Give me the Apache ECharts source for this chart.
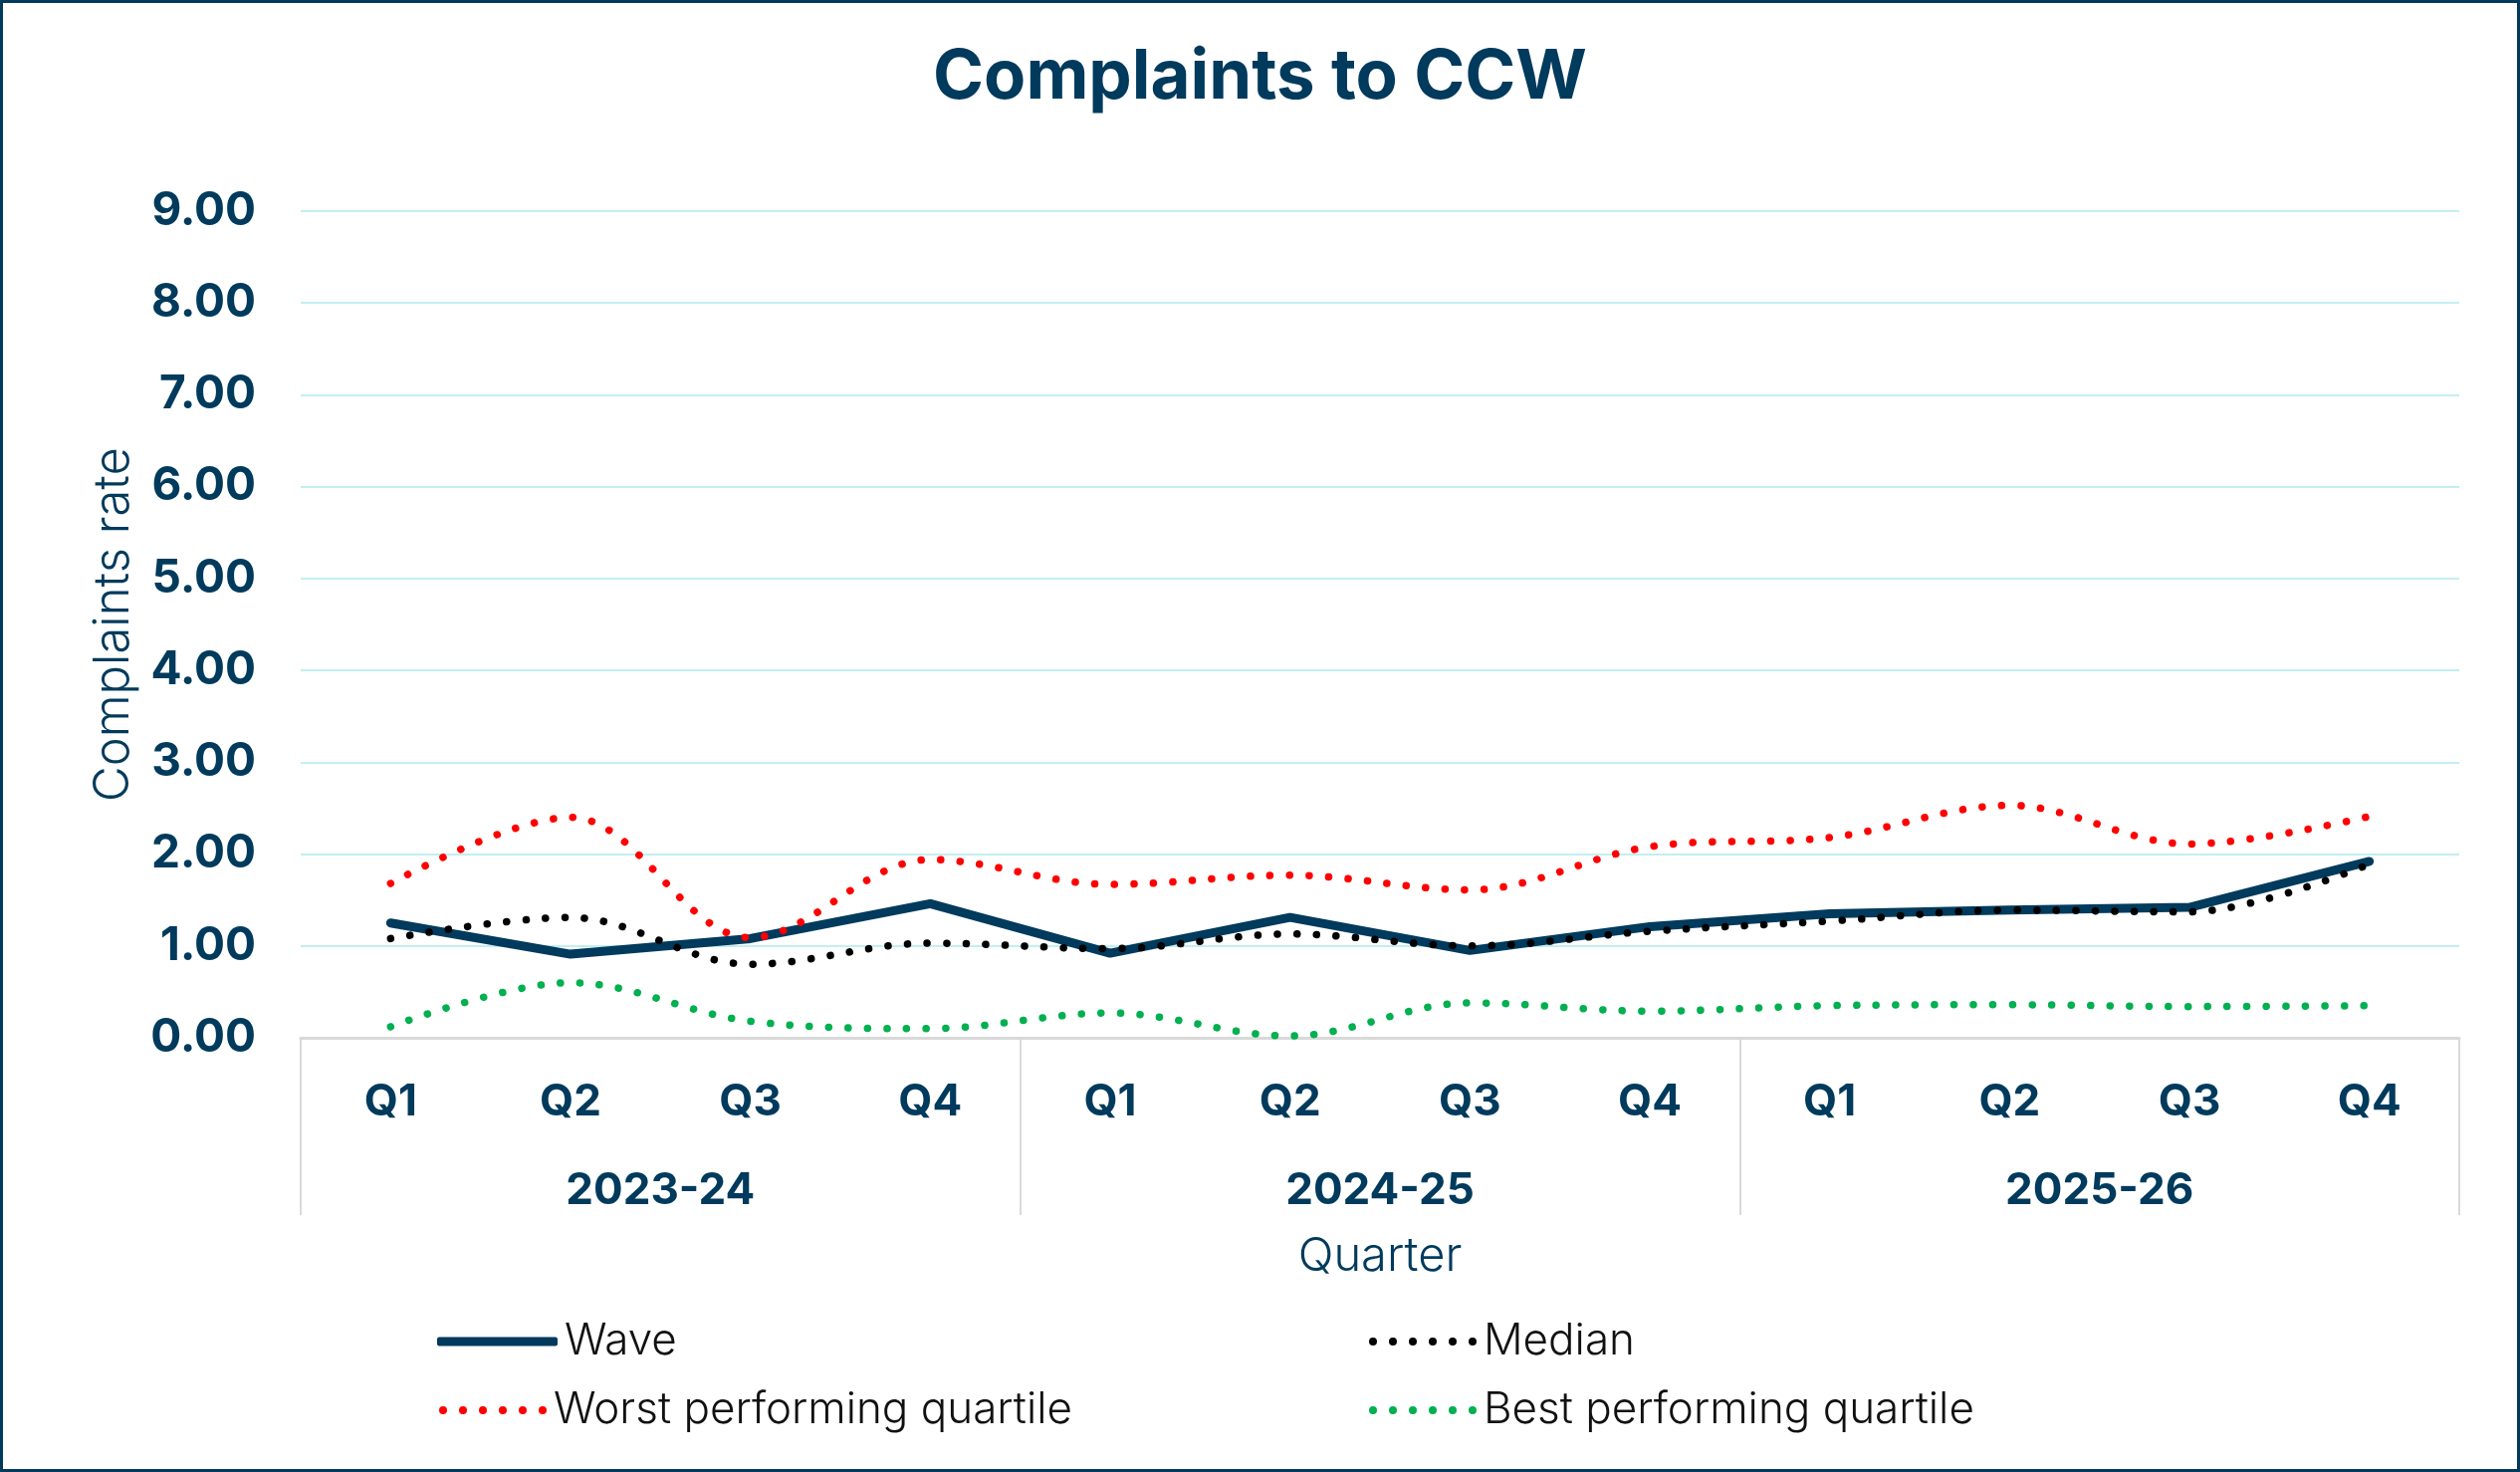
<!DOCTYPE html>
<html>
<head>
<meta charset="utf-8">
<script src="https://cdn.jsdelivr.net/npm/echarts@6/dist/echarts.min.js"></script>
<style>
  html, body { margin: 0; padding: 0; background: #fff; }
  #chart { width: 2531px; height: 1478px; box-sizing: border-box; border: 3px solid #003a5c; }
</style>
</head>
<body>
<div id="chart"></div>
<script>
// quarters / years on the two-level category axis
var quarters = ['Q1', 'Q2', 'Q3', 'Q4', 'Q1', 'Q2', 'Q3', 'Q4', 'Q1', 'Q2', 'Q3', 'Q4'];
var years = ['2023-24', '2024-25', '2025-26'];

var wave = [1.25, 0.91, 1.08, 1.46, 0.92, 1.31, 0.95, 1.21, 1.35, 1.39, 1.42, 1.92];
var median = [1.08, 1.31, 0.80, 1.03, 0.97, 1.13, 1.00, 1.16, 1.27, 1.39, 1.37, 1.89];
var worst = [1.68, 2.40, 1.09, 1.94, 1.67, 1.77, 1.61, 2.08, 2.18, 2.53, 2.11, 2.41];
var best = [0.12, 0.60, 0.18, 0.10, 0.27, 0.02, 0.38, 0.29, 0.35, 0.36, 0.34, 0.35];

var navy = '#003a5c';
var font = 'Inter, "Open Sans", sans-serif';

// six round dots, used as legend icon for the dotted series
var dots = 'path://M0,4a4,4 0 1,0 8,0a4,4 0 1,0 -8,0' +
    'M20,4a4,4 0 1,0 8,0a4,4 0 1,0 -8,0' +
    'M40,4a4,4 0 1,0 8,0a4,4 0 1,0 -8,0' +
    'M60,4a4,4 0 1,0 8,0a4,4 0 1,0 -8,0' +
    'M80,4a4,4 0 1,0 8,0a4,4 0 1,0 -8,0' +
    'M100,4a4,4 0 1,0 8,0a4,4 0 1,0 -8,0';

function dotted(name, data, color) {
    return {
        name: name, type: 'line', data: data, smooth: 0.35,
        symbol: 'none', showSymbol: false,
        lineStyle: { color: color, width: 7.5, type: [0.1, 19.5], cap: 'round' },
        itemStyle: { color: color }
    };
}

function legendAt(name, icon, w, h, left, top) {
    return {
        data: [{ name: name, icon: icon }], left: left, top: top, orient: 'horizontal',
        itemWidth: w, itemHeight: h, itemGap: 0, padding: 0,
        textStyle: { fontFamily: font, fontSize: 44, fontWeight: 300, color: '#111', padding: [0, 0, 0, 2] }
    };
}

var chart = echarts.init(document.getElementById('chart'));
chart.setOption({
    backgroundColor: '#fff',
    animation: false,
    title: {
        text: 'Complaints to CCW', left: 'center', top: 36,
        textStyle: { fontFamily: font, fontSize: 69, fontWeight: 'bold', color: navy }
    },
    legend: [
        legendAt('Wave', 'roundRect', 121, 9, 436, 1322),
        legendAt('Median', dots, 108, 8, 1372, 1322),
        legendAt('Worst performing quartile', dots, 108, 8, 438, 1391),
        legendAt('Best performing quartile', dots, 108, 8, 1372, 1391)
    ],
    grid: { left: 299, right: 58, top: 209, bottom: 433, containLabel: false },
    xAxis: [{
        type: 'category', data: quarters, boundaryGap: true, position: 'bottom',
        axisLine: { show: true, lineStyle: { color: '#d9d9d9', width: 3 } },
        axisTick: { show: false },
        axisLabel: { margin: 65, verticalAlign: 'middle', fontFamily: font, fontSize: 44, fontWeight: 'bold', color: navy },
        splitLine: { show: false }
    }, {
        type: 'category', data: years, boundaryGap: true, position: 'bottom',
        axisLine: { show: false },
        axisTick: { show: true, length: 178, lineStyle: { color: '#d9d9d9', width: 2 } },
        axisLabel: { margin: 154, verticalAlign: 'middle', fontFamily: font, fontSize: 44, fontWeight: 'bold', color: navy },
        name: 'Quarter', nameLocation: 'middle', nameGap: 220,
        nameTextStyle: { fontFamily: font, fontSize: 47, fontWeight: 300, color: navy, verticalAlign: 'middle' }
    }],
    yAxis: {
        type: 'value', min: 0, max: 9, interval: 1,
        name: 'Complaints rate', nameLocation: 'middle', nameGap: 188, nameRotate: 90,
        nameTextStyle: { fontFamily: font, fontSize: 49, fontWeight: 300, color: navy, verticalAlign: 'middle' },
        axisLine: { show: false }, axisTick: { show: false },
        axisLabel: {
            margin: 45, fontFamily: font, fontSize: 46, fontWeight: 'bold', color: navy,
            padding: [8, 0, 0, 0],
            formatter: function (v) { return v.toFixed(2); }
        },
        splitLine: { lineStyle: { color: '#c3eff2', width: 2 } }
    },
    series: [
        {
            name: 'Wave', type: 'line', data: wave, symbol: 'none', showSymbol: false,
            lineStyle: { color: navy, width: 9, cap: 'round' }, itemStyle: { color: navy }
        },
        dotted('Median', median, '#000000'),
        dotted('Worst performing quartile', worst, '#ff0000'),
        dotted('Best performing quartile', best, '#00b050')
    ]
});
</script>
</body>
</html>
